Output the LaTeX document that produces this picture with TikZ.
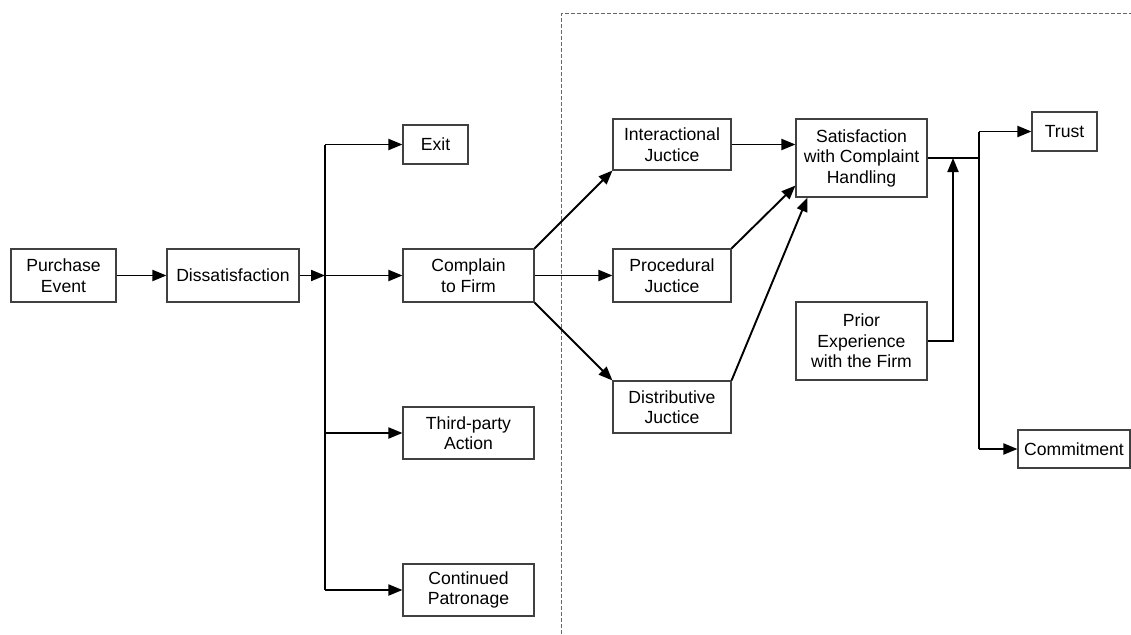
\documentclass[tikz,border=0pt]{standalone}
\usepackage{fontspec}
\setmainfont{Liberation Sans}
\usetikzlibrary{arrows.meta,calc}
\begin{document}
\begin{tikzpicture}[x=1pt,y=-1pt,
  box/.style={draw=black!75,line width=1.1pt,fill=white,inner sep=0pt,align=center,
    font=\fontsize{17.6}{20.5}\selectfont},
  conn/.style={line width=1.9pt,black},
  arr/.style={conn,-{Triangle[length=14pt,width=11pt]}},
  sep/.style={draw=black!60,line width=1pt,dash pattern=on 4pt off 2pt}]
\useasboundingbox (0,0) rectangle (1131,634);
\draw[sep] (561,634) -- (561,14) -- (1131,14);
\node[box,minimum width=105,minimum height=53] (pe) at (63.5,275.5) {Purchase\\Event};
\node[box,minimum width=132,minimum height=53] (dis) at (233,275.5) {Dissatisfaction};
\node[box,minimum width=65,minimum height=39] (exit) at (435.5,144.5) {Exit};
\node[box,minimum width=131,minimum height=53] (cf) at (468.5,275.5) {Complain\\to Firm};
\node[box,minimum width=131,minimum height=52] (tp) at (468.5,433) {Third-party\\Action};
\node[box,minimum width=131,minimum height=52] (cp) at (468.5,590) {Continued\\Patronage};
\node[box,minimum width=118,minimum height=51] (ij) at (672,144.5) {Interactional\\Juctice};
\node[box,minimum width=118,minimum height=53] (pj) at (672,275.5) {Procedural\\Juctice};
\node[box,minimum width=118,minimum height=52] (dj) at (672,407) {Distributive\\Juctice};
\node[box,minimum width=131,minimum height=78] (sat) at (861.5,158) {Satisfaction\\with Complaint\\Handling};
\node[box,minimum width=131,minimum height=78] (pri) at (861.5,341) {Prior\\Experience\\with the Firm};
\node[box,minimum width=65,minimum height=39] (trust) at (1064.5,131.5) {Trust};
\node[box,minimum width=112,minimum height=38] (com) at (1074,449) {Commitment};
\coordinate (j1) at (325,275.5);
\coordinate (j2) at (979,158);
\coordinate (j3) at (953,341);
\draw[arr] (pe.east) -- (dis.west);
\draw[arr] (dis.east) -- (j1);
\draw[conn] (j1 |- exit.west) -- (j1 |- cp.west);
\draw[arr] (j1 |- exit.west) -- (exit.west);
\draw[arr] (j1) -- (cf.west);
\draw[arr] (j1 |- tp.west) -- (tp.west);
\draw[arr] (j1 |- cp.west) -- (cp.west);
\draw[arr] (cf.north east) -- (ij.south west);
\draw[arr] (cf.east) -- (pj.west);
\draw[arr] (cf.south east) -- (dj.north west);
\draw[arr] (ij.east) -- (sat.west |- ij.east);
\draw[arr] (pj.north east) -- ($(sat.south west)+(0,-12)$);
\draw[arr] (dj.north east) -- ($(sat.south west)+(12,0)$);
\draw[conn] (sat.east) -- (j2);
\draw[arr] (pri.east) -- (j3) -- (j3 |- j2);
\draw[conn] (j2 |- trust.west) -- (j2 |- com.west);
\draw[arr] (j2 |- trust.west) -- (trust.west);
\draw[arr] (j2 |- com.west) -- (com.west);
\end{tikzpicture}
\end{document}
